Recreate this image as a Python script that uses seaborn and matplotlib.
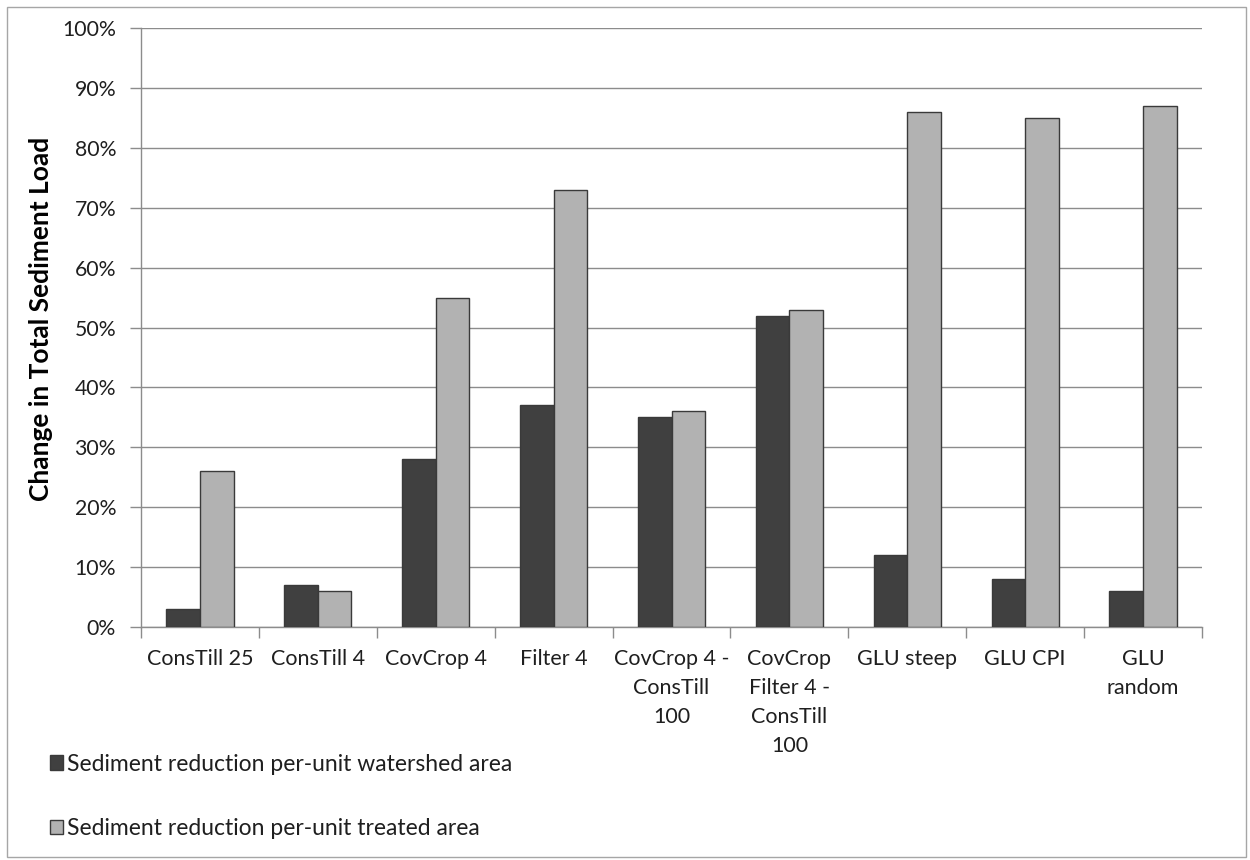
import matplotlib
matplotlib.use("Agg")
import matplotlib.pyplot as plt
from matplotlib.patches import Rectangle
from matplotlib.ticker import FixedLocator, PercentFormatter
import seaborn as sns
import pandas as pd

# Scenario labels (line breaks as they wrap under the bars)
categories = [
    "ConsTill 25",
    "ConsTill 4",
    "CovCrop 4",
    "Filter 4",
    "CovCrop 4 -\nConsTill\n100",
    "CovCrop\nFilter 4 -\nConsTill\n100",
    "GLU steep",
    "GLU CPI",
    "GLU\nrandom",
]

# Sediment reduction, percent
watershed_area = [3, 7, 28, 37, 35, 52, 12, 8, 6]
treated_area = [26, 6, 55, 73, 36, 53, 86, 85, 87]

series_names = [
    "Sediment reduction per-unit watershed area",
    "Sediment reduction per-unit treated area",
]

y_ticks = list(range(0, 101, 10))

df = pd.DataFrame({
    "scenario": categories * 2,
    "value": watershed_area + treated_area,
    "series": [series_names[0]] * len(categories) + [series_names[1]] * len(categories),
})

sns.set_theme(style="white")
plt.rcParams["font.family"] = ["Lato", "DejaVu Sans"]

fig = plt.figure(figsize=(12.5, 8.6), dpi=100)
ax = fig.add_axes([0.1128, 0.2709, 0.8488, 0.6965])

palette = {series_names[0]: "#404040", series_names[1]: "#b2b2b2"}
sns.barplot(
    data=df, x="scenario", y="value", hue="series", order=categories,
    hue_order=series_names, palette=palette, width=0.57, gap=0,
    edgecolor="#3a3a3a", linewidth=1.0, saturation=1, ax=ax, zorder=3,
)

grid_color = "#8c8c8c"
text_color = "#1f1f1f"
ax.set_ylim(0, 100)
ax.set_xlim(-0.5, len(categories) - 0.5)
ax.yaxis.set_major_locator(FixedLocator(y_ticks))
ax.yaxis.set_major_formatter(PercentFormatter(decimals=0))
ax.grid(axis="y", color=grid_color, linewidth=1.0, zorder=0)
ax.set_axisbelow(True)

for side in ("top", "right"):
    ax.spines[side].set_visible(False)
for side in ("left", "bottom"):
    ax.spines[side].set_color(grid_color)
    ax.spines[side].set_linewidth(1.0)

ax.tick_params(axis="y", which="major", length=8, width=1, color=grid_color,
               direction="out", left=True, labelsize=15.3, labelcolor=text_color, pad=10)
ax.tick_params(axis="x", which="major", length=0, labelsize=15.5,
               labelcolor=text_color, pad=16)
ax.set_xticks([i - 0.5 for i in range(len(categories) + 1)], minor=True)
ax.tick_params(axis="x", which="minor", length=8, width=1, color=grid_color,
               direction="out", bottom=True)
for lbl in ax.get_xticklabels():
    lbl.set_linespacing(1.55)
    lbl.set_verticalalignment("top")

ax.set_xlabel("")
ax.set_ylabel("Change in Total Sediment Load", fontsize=19, fontweight="bold",
              color="black")
ax.yaxis.set_label_coords(-0.083, 0.514)

handles, labels = ax.get_legend_handles_labels()
ax.legend(
    handles, labels, loc="upper left", bbox_to_anchor=(0.031, 0.137),
    bbox_transform=fig.transFigure, frameon=False, fontsize=16.5,
    handlelength=0.57, handleheight=0.57, handletextpad=0.18, borderpad=0,
    labelspacing=1.9, labelcolor=text_color,
)

fig.patches.append(Rectangle((0.0056, 0.0035), 0.9912, 0.9885, transform=fig.transFigure,
                             fill=False, edgecolor="#a6a6a6", linewidth=1.0))

fig.savefig("out.png", dpi=100, facecolor="white")
